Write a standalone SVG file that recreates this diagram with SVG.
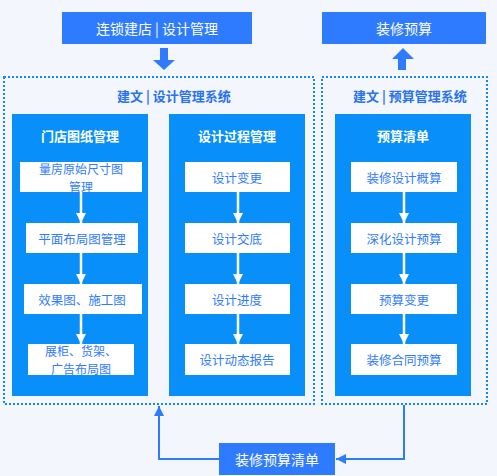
<svg xmlns="http://www.w3.org/2000/svg" width="497" height="476" viewBox="0 0 497 476">
<defs>
<style>
text{font-family:"Noto Sans CJK SC","Noto Sans",sans-serif;text-anchor:middle;dominant-baseline:central}
.top{fill:#2f7bff}
.topt{fill:#fff;font-size:14px}
.cont{fill:none;stroke:#1689f0;stroke-width:2;stroke-dasharray:2 2}
.ct{fill:#2a72ee;font-size:13px;font-weight:bold}
.panel{fill:#088ff9}
.pt{fill:#fff;font-size:13px;font-weight:bold}
.wb{fill:#fff}
.wt{fill:#2f7bff;font-size:12.5px}
.wt2{fill:#2f7bff;font-size:12px}
.wl{stroke:#fff;stroke-width:2.5;fill:none}
.bl{stroke:#2f7bff;stroke-width:2;fill:none}
</style>
<marker id="wa" viewBox="0 0 10 10" refX="10" refY="5" markerWidth="10" markerHeight="10" markerUnits="userSpaceOnUse" orient="auto"><path d="M0,0L10,5L0,10z" fill="#fff"/></marker>
<marker id="ba" viewBox="0 0 10 10" refX="10" refY="5" markerWidth="10" markerHeight="10" markerUnits="userSpaceOnUse" orient="auto"><path d="M0,0L10,5L0,10z" fill="#2f7bff"/></marker>
</defs>
<rect width="497" height="476" fill="#f3f7fd"/>

<g id="top1"><rect class="top" x="62" y="12" width="190" height="32"/><text class="topt" x="157" y="28">连锁建店 | 设计管理</text></g>
<g id="top2"><rect class="top" x="322" y="12" width="164" height="32"/><text class="topt" x="404" y="28">装修预算</text></g>

<g id="sys1"><rect class="cont" x="4" y="77" width="310" height="327"/><text class="ct" x="174" y="95">建文 | 设计管理系统</text></g>
<g id="sys2"><rect class="cont" x="322" y="77" width="165" height="327"/><text class="ct" x="410" y="95">建文 | 预算管理系统</text></g>

<g id="p1"><rect class="panel" x="12" y="114" width="136" height="282"/><text class="pt" x="80" y="135">门店图纸管理</text></g>
<g id="p2"><rect class="panel" x="169" y="114" width="136" height="282"/><text class="pt" x="237" y="135">设计过程管理</text></g>
<g id="p3"><rect class="panel" x="335" y="114" width="136" height="282"/><text class="pt" x="403" y="135">预算清单</text></g>

<g id="a1"><rect class="wb" x="20" y="162" width="122" height="30"/><text class="wt2" x="81" y="168.6">量房原始尺寸图</text><text class="wt2" x="81" y="186.1">管理</text></g>
<g id="a2"><rect class="wb" x="26" y="223" width="112" height="30"/><text class="wt" x="82" y="238">平面布局图管理</text></g>
<g id="a3"><rect class="wb" x="24" y="284" width="118" height="30"/><text class="wt" x="82" y="299">效果图、施工图</text></g>
<g id="a4"><rect class="wb" x="28" y="344" width="106" height="31"/><text class="wt2" x="81" y="350.9">展柜、货架、</text><text class="wt2" x="81" y="368.4">广告布局图</text></g>

<g id="b1"><rect class="wb" x="185" y="162" width="105" height="30"/><text class="wt" x="237" y="177">设计变更</text></g>
<g id="b2"><rect class="wb" x="185" y="223" width="105" height="30"/><text class="wt" x="237" y="238">设计交底</text></g>
<g id="b3"><rect class="wb" x="185" y="284" width="105" height="30"/><text class="wt" x="237" y="299">设计进度</text></g>
<g id="b4"><rect class="wb" x="185" y="344" width="105" height="31"/><text class="wt" x="237" y="359">设计动态报告</text></g>

<g id="c1"><rect class="wb" x="351" y="162" width="106" height="30"/><text class="wt" x="404" y="177">装修设计概算</text></g>
<g id="c2"><rect class="wb" x="351" y="223" width="106" height="30"/><text class="wt" x="404" y="238">深化设计预算</text></g>
<g id="c3"><rect class="wb" x="351" y="284" width="106" height="30"/><text class="wt" x="404" y="299">预算变更</text></g>
<g id="c4"><rect class="wb" x="351" y="344" width="106" height="31"/><text class="wt" x="404" y="359">装修合同预算</text></g>

<g id="bottom"><rect class="top" x="219" y="443" width="116" height="32"/><text class="topt" x="277" y="459">装修预算清单</text></g>

<g id="connectors">
<path d="M160,48H168V60H175L164,70L153,60H160z" fill="#2f7bff"/>
<path d="M398,70H406V59H414L403,48L392,59H398z" fill="#2f7bff"/>
<path class="wl" d="M81,192V223" marker-end="url(#wa)"/>
<path class="wl" d="M81,253V284" marker-end="url(#wa)"/>
<path class="wl" d="M81,314V344" marker-end="url(#wa)"/>
<path class="wl" d="M238,192V223" marker-end="url(#wa)"/>
<path class="wl" d="M238,253V284" marker-end="url(#wa)"/>
<path class="wl" d="M238,314V344" marker-end="url(#wa)"/>
<path class="wl" d="M404,192V223" marker-end="url(#wa)"/>
<path class="wl" d="M404,253V284" marker-end="url(#wa)"/>
<path class="wl" d="M404,314V344" marker-end="url(#wa)"/>
<path class="bl" d="M404,405V459H336" marker-end="url(#ba)"/>
<path class="bl" d="M219,459H159V406" marker-end="url(#ba)"/>
</g>
</svg>
